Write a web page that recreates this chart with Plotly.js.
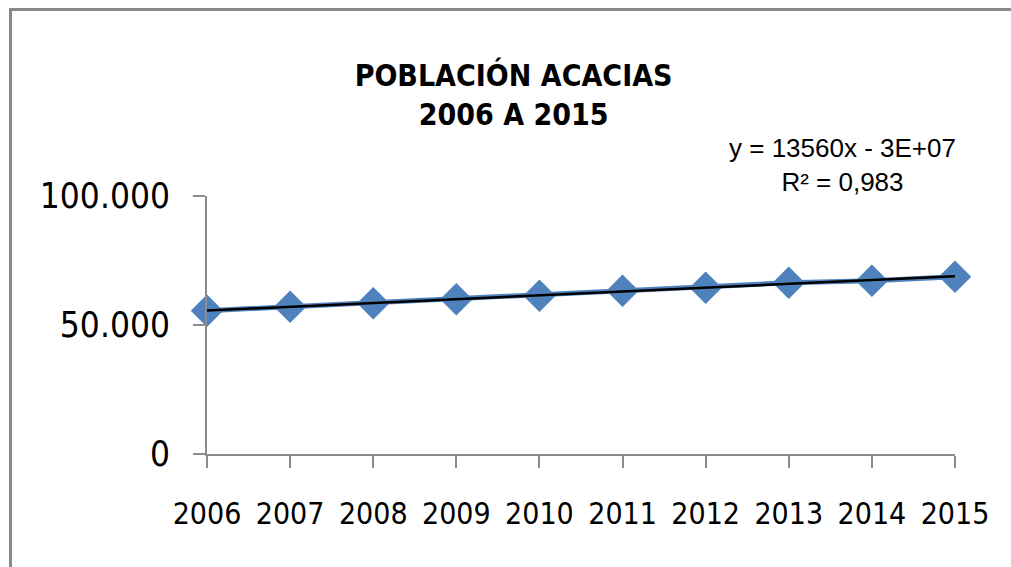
<!DOCTYPE html>
<html>
<head>
<meta charset="utf-8">
<script src="https://cdn.plot.ly/plotly-3.0.1.min.js"></script>
<style>
  body { margin: 0; background: #fff; }
  #marco { position: absolute; left: 9px; top: 8px; width: 1010px; height: 570px;
           border-left: 3px solid #8a8a8a; border-top: 3px solid #8a8a8a; }
  #grafico { position: absolute; left: 0; top: 0; width: 1011px; height: 567px; }
</style>
</head>
<body>
<div id="marco"></div>
<div id="grafico"></div>
<script>
// Datos
var anios = [2006, 2007, 2008, 2009, 2010, 2011, 2012, 2013, 2014, 2015];
var poblacion = [55550, 57090, 58410, 59960, 61360, 63300, 64460, 66400, 67170, 68720];
var ticksY = [0, 50000, 100000];
var ecuacion = 'y = 13560x - 3E+07';
var r2 = 'R² = 0,983';

var fuenteEje = '"Liberation Sans Narrow", "DejaVu Sans Condensed", "DejaVu Sans", sans-serif';

// Línea de tendencia (mínimos cuadrados sobre los datos)
function tendencia(xs, ys) {
    var n = xs.length, sx = 0, sy = 0, sxy = 0, sxx = 0;
    for (var i = 0; i < n; i++) {
        sx += xs[i]; sy += ys[i]; sxy += xs[i] * ys[i]; sxx += xs[i] * xs[i];
    }
    var m = (n * sxy - sx * sy) / (n * sxx - sx * sx);
    var b = (sy - m * sx) / n;
    return xs.map(function(x) { return m * x + b; });
}

function initGrafico() {
    var serie = {
        x: anios,
        y: poblacion,
        type: 'scatter',
        mode: 'lines+markers',
        cliponaxis: false,
        line: {color: '#4f81bd', width: 5},
        marker: {symbol: 'diamond', size: 25, color: '#4f81bd'},
        hoverinfo: 'x+y'
    };

    var lineaTend = {
        x: anios,
        y: tendencia(anios, poblacion),
        type: 'scatter',
        mode: 'lines',
        cliponaxis: false,
        line: {color: '#000000', width: 2.5},
        hoverinfo: 'skip'
    };

    var layout = {
        width: 1011,
        height: 567,
        margin: {l: 207, r: 56, t: 196, b: 113},
        paper_bgcolor: 'rgba(0,0,0,0)',
        plot_bgcolor: 'rgba(0,0,0,0)',
        showlegend: false,
        separators: ',.',
        title: {
            text: '<b>POBLACIÓN ACACIAS<br>2006 A 2015</b>',
            font: {family: fuenteEje, size: 30, color: '#000'},
            xref: 'container', x: 0.508,
            yref: 'container', y: 0.848, yanchor: 'middle'
        },
        xaxis: {
            range: [2006, 2015],
            tickvals: anios,
            showgrid: false,
            zeroline: false,
            showline: true,
            linecolor: '#8c8c8c',
            linewidth: 2,
            ticks: 'outside',
            ticklen: 12,
            tickwidth: 2,
            tickcolor: '#8c8c8c',
            ticklabelstandoff: 20,
            tickfont: {family: fuenteEje, size: 30, color: '#000'}
        },
        yaxis: {
            range: [0, 100000],
            tickvals: ticksY,
            tickformat: ',d',
            showgrid: false,
            zeroline: false,
            showline: true,
            linecolor: '#8c8c8c',
            linewidth: 2,
            ticks: 'outside',
            ticklen: 12,
            tickwidth: 2,
            tickcolor: '#8c8c8c',
            ticklabelstandoff: 16,
            tickfont: {family: fuenteEje, size: 35, color: '#000'}
        },
        annotations: [
            {text: ecuacion + '<br>' + r2, xref: 'paper', yref: 'paper', x: 0.85, y: 1.12,
             xanchor: 'center', yanchor: 'middle', align: 'center', showarrow: false,
             font: {family: 'Liberation Sans', size: 26, color: '#000'}}
        ]
    };

    Plotly.newPlot('grafico', [serie, lineaTend], layout, {displayModeBar: false});
}

document.addEventListener('DOMContentLoaded', function() {
    initGrafico();
});
</script>
</body>
</html>
